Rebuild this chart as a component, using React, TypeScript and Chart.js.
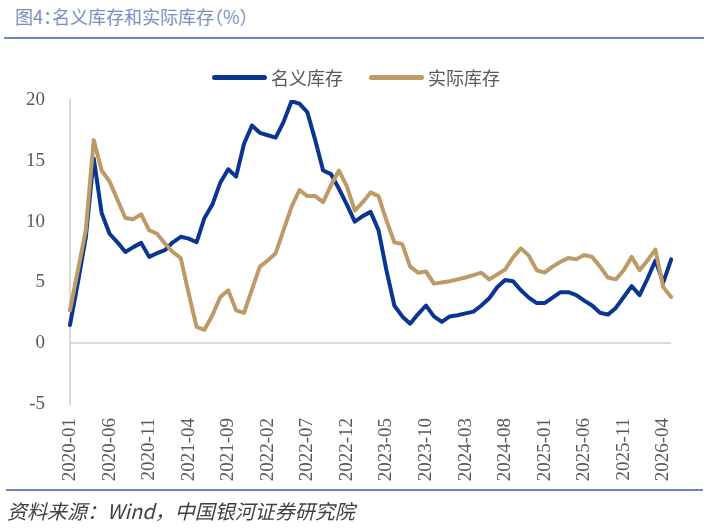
import React, { useEffect, useRef } from "react";
import { Chart, registerables } from "chart.js";

Chart.register(...registerables);

const months: string[] = [];
for (let y = 2020; y <= 2026; y++) {
  for (let m = 1; m <= 12; m++) {
    if (y === 2026 && m > 5) break;
    months.push(`${y}-${String(m).padStart(2, "0")}`);
  }
}

const nominalStock = [
  1.5, 5.0, 8.7, 15.2, 10.7, 9.0, 8.3, 7.5, 7.9, 8.25,
  7.1, 7.4, 7.65, 8.3, 8.75, 8.6, 8.3, 10.3, 11.4, 13.2,
  14.3, 13.7, 16.4, 17.9, 17.3, 17.1, 16.9, 18.2, 19.9, 19.7,
  19.0, 16.7, 14.2, 13.9, 12.7, 11.4, 10.0, 10.45, 10.8, 9.3,
  6.0, 3.1, 2.2, 1.6, 2.4, 3.1, 2.2, 1.75, 2.2, 2.3,
  2.45, 2.6, 3.1, 3.7, 4.6, 5.2, 5.1, 4.35, 3.75, 3.3,
  3.3, 3.75, 4.2, 4.2, 3.95, 3.5, 3.1, 2.5, 2.35, 2.9,
  3.8, 4.7, 3.95, 5.3, 6.8, 5.0, 6.9,
];

const realStock = [
  2.7, 6.0, 9.3, 16.7, 14.2, 13.3, 11.8, 10.3, 10.2, 10.6,
  9.3, 9.0, 8.2, 7.5, 7.0, 4.1, 1.35, 1.1, 2.3, 3.8,
  4.35, 2.7, 2.5, 4.4, 6.3, 6.8, 7.4, 9.3, 11.2, 12.6,
  12.1, 12.1, 11.6, 13.0, 14.2, 12.9, 10.9, 11.6, 12.4, 12.1,
  10.1, 8.3, 8.15, 6.3, 5.8, 5.9, 4.9, 5.0, 5.1, 5.25,
  5.4, 5.6, 5.8, 5.25, 5.65, 6.05, 7.05, 7.8, 7.2, 6.0,
  5.8, 6.3, 6.7, 7.0, 6.9, 7.25, 7.1, 6.3, 5.4, 5.25,
  6.0, 7.1, 6.0, 6.8, 7.7, 4.6, 3.8,
];

const seriesNames = ["名义库存", "实际库存"];
const yTicks = [-5, 0, 5, 10, 15, 20];
const titleText = "图4：名义库存和实际库存（%）";
const sourceText = "资料来源：Wind，中国银河证券研究院";

const BLUE = "#0B3592";
const GOLD = "#BE9A66";

export default function App() {
  const ref = useRef<HTMLCanvasElement | null>(null);

  useEffect(() => {
    if (!ref.current) return;
    const chart = new Chart(ref.current, {
      type: "line",
      data: {
        labels: months,
        datasets: [
          {
            label: seriesNames[0],
            data: nominalStock,
            borderColor: BLUE,
            backgroundColor: BLUE,
            borderWidth: 4,
            pointRadius: 0,
            tension: 0,
            borderJoinStyle: "round",
            borderCapStyle: "round",
            order: 2,
          },
          {
            label: seriesNames[1],
            data: realStock,
            borderColor: GOLD,
            backgroundColor: GOLD,
            borderWidth: 4,
            pointRadius: 0,
            tension: 0,
            borderJoinStyle: "round",
            borderCapStyle: "round",
            order: 1,
          },
        ],
      },
      options: {
        animation: false,
        responsive: false,
        maintainAspectRatio: false,
        layout: { padding: { left: 0, right: 36, top: 100, bottom: 40 } },
        plugins: {
          legend: { display: false },
          tooltip: { enabled: false },
        },
        scales: {
          x: {
            type: "category",
            offset: false,
            border: { display: false },
            grid: { display: false, drawTicks: false },
            ticks: {
              autoSkip: false,
              maxRotation: 90,
              minRotation: 90,
              padding: 14,
              color: "#595959",
              font: { family: "'Liberation Serif', 'DejaVu Serif', serif", size: 19 },
              callback: (_v: any, i: number) => (i % 5 === 0 ? months[i] : ""),
            },
            afterFit: (scale: any) => {
              scale.height = 84;
            },
          },
          y: {
            min: -5,
            max: 20,
            border: { display: true, color: "#D9D9D9", width: 2 },
            grid: {
              drawTicks: false,
              lineWidth: 2,
              color: (ctx: any) => (ctx.tick && ctx.tick.value === 0 ? "#D9D9D9" : "rgba(0,0,0,0)"),
            },
            afterBuildTicks: (scale: any) => {
              scale.ticks = yTicks.map((v) => ({ value: v }));
            },
            ticks: {
              padding: 25,
              color: "#595959",
              font: { family: "'Liberation Serif', 'DejaVu Serif', serif", size: 19 },
            },
            afterFit: (scale: any) => {
              scale.width = 70;
            },
          },
        },
      },
    });
    return () => chart.destroy();
  }, []);

  const legendItem = (color: string, text: string, left: number) => (
    <div
      style={{
        position: "absolute",
        left,
        top: 66,
        height: 22,
        display: "flex",
        alignItems: "center",
      }}
    >
      <div style={{ width: 55, height: 5, borderRadius: 3, background: color, marginRight: 4 }} />
      <span
        style={{
          fontFamily: "'Noto Sans CJK SC', sans-serif",
          fontSize: 18,
          color: "#595959",
          lineHeight: "22px",
        }}
      >
        {text}
      </span>
    </div>
  );

  return (
    <div
      style={{
        position: "absolute",
        left: 0,
        top: 0,
        width: 708,
        height: 528,
        background: "#fff",
        overflow: "hidden",
      }}
    >
      <div
        style={{
          position: "absolute",
          left: 15,
          top: 3,
          fontFamily: "'Noto Sans CJK SC', sans-serif",
          fontSize: 18,
          lineHeight: "26px",
          color: "#7D8FC2",
          whiteSpace: "nowrap",
          fontFeatureSettings: '"halt"',
        }}
      >
        {titleText}
      </div>
      <div
        style={{
          position: "absolute",
          left: 4,
          top: 37,
          width: 700,
          height: 2,
          background: "#6F86BF",
        }}
      />
      <canvas
        ref={ref}
        width={708}
        height={528}
        style={{ position: "absolute", left: 0, top: 0, width: 708, height: 528 }}
      />
      {legendItem(BLUE, seriesNames[0], 212)}
      {legendItem(GOLD, seriesNames[1], 369)}
      <div
        style={{
          position: "absolute",
          left: 6,
          top: 489,
          width: 697,
          height: 2,
          background: "#6F86BF",
        }}
      />
      <div
        style={{
          position: "absolute",
          left: 7,
          top: 498,
          fontFamily: "'Noto Sans CJK SC', sans-serif",
          fontStyle: "italic",
          fontSize: 20,
          lineHeight: "26px",
          color: "#404040",
          whiteSpace: "nowrap",
        }}
      >
        {sourceText}
      </div>
    </div>
  );
}
